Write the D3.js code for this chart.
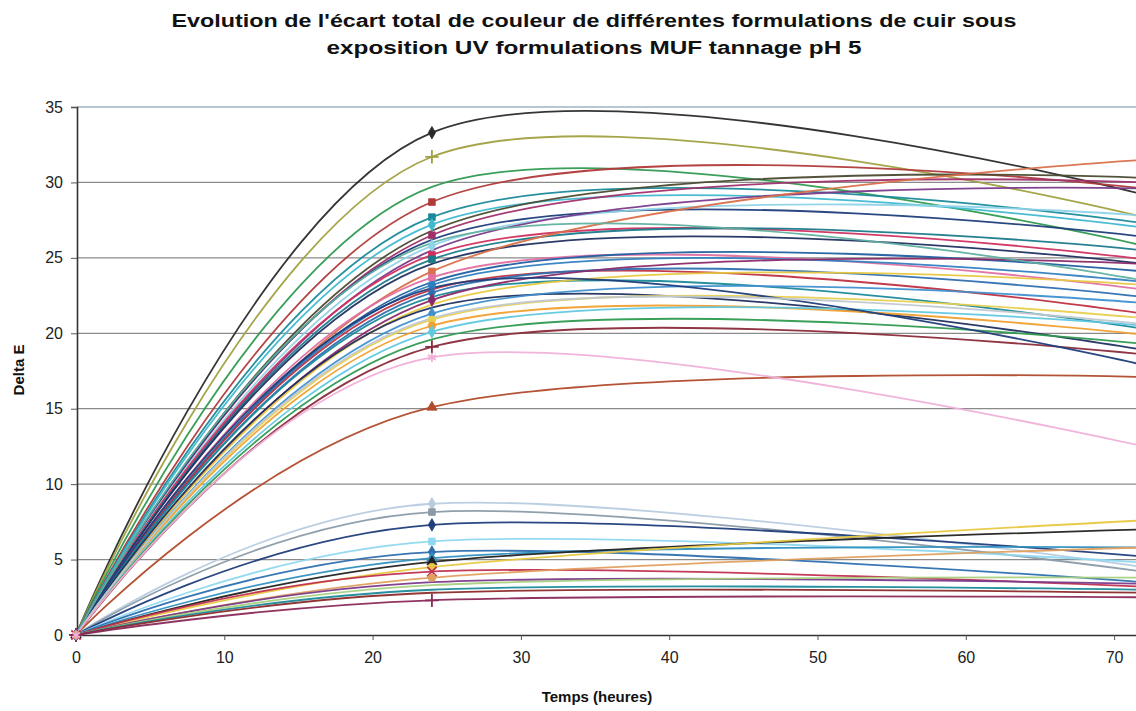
<!DOCTYPE html>
<html><head><meta charset="utf-8">
<script src="https://cdn.jsdelivr.net/npm/d3@7"></script>
<style>body{margin:0;background:#fff}svg{display:block}</style>
</head><body>
<svg id="c" width="1136" height="711"></svg>
<script>
// ---- data ----
const titleLines = ["Evolution de l'écart total de couleur de différentes formulations de cuir sous",
                    "exposition UV formulations MUF tannage pH 5"];
const xLabel = "Temps (heures)";
const yLabel = "Delta E";
const hours = [0, 24, 72];
const xTicks = [0, 10, 20, 30, 40, 50, 60, 70];
const yTicks = [0, 5, 10, 15, 20, 25, 30, 35];
// Delta E at 24 h and at 72 h for each formulation (value at 0 h is 0)
const at24 = [33.3, 31.7, 29.7, 28.7, 27.7, 27.2, 26.8, 26.5, 26.2, 25.8, 25.5, 25.2, 24.9, 24.6, 24.1,
              23.7, 23.4, 23.2, 22.9, 22.7, 22.4, 22.2, 21.9, 21.7, 21.3, 20.9, 20.5, 20.1, 19.6, 19.1,
              23.0, 21.0, 26.0, 15.1,
              8.7, 8.15, 7.3, 6.2, 5.5, 5.1, 4.85, 4.5, 4.2, 3.8, 3.5, 3.3, 3.0, 2.8, 2.3, 18.4];
const at72 = [29.2, 27.7, 25.8, 29.6, 27.3, 27.0, 30.3, 30.0, 26.4, 27.8, 29.6, 24.9, 25.5, 24.6, 31.5,
              22.9, 24.1, 23.4, 21.3, 22.4, 20.3, 24.6, 23.2, 18.9, 22.0, 21.0, 19.9, 20.5, 19.3, 18.6,
              17.9, 20.6, 23.5, 17.1,
              4.5, 4.2, 5.2, 4.8, 3.5, 5.8, 7.0, 7.6, 3.2, 5.8, 3.4, 3.8, 3.0, 2.8, 2.5, 12.5];
// ---- styles ----
const palette = ["#2a2a2a","#a0a040","#2e9a50","#b03a3a","#1a8a9a","#40b8d0","#4a4a30","#a0306a","#1f3d7a","#8fd3e8",
                 "#7a3a8a","#d03060","#1a7a8a","#203060","#d9704a","#e070a0","#2060a0","#3080c0","#c03040","#2e6fb0",
                 "#1a8a9a","#8a2a6a","#e8c840","#203060","#4090d0","#e8d050","#f0a030","#60c8e0","#2e9a50","#8a2a3a",
                 "#1f3d7a","#c0c8d0","#60b0a0","#b04a2a",
                 "#b8cce0","#8a9aa8","#1f3d7a","#90d8f0","#2e6fb0","#3090c0","#222222","#e8c840","#c03050","#e0a060",
                 "#7a3a8a","#a8d080","#1a8a9a","#8b2a2a","#8a2a5a","#f0b0d8"];
const markerKinds = ["diamond","plus","none","square","square","diamond","none","square","none","diamond",
                     "none","square","square","none","square","square","none","circle","none","diamond",
                     "none","diamond","none","none","diamond","circle","circle","diamond","none","plus",
                     "none","none","none","triangle",
                     "diamond","square","diamond","square","diamond","triangle","triangle","circle","x","circle",
                     "none","none","none","none","plus","asterisk"];

const svg = d3.select("#c");
const x = d3.scaleLinear().domain([0, 80]).range([76, 76 + 80 * 14.83]);
const y = d3.scaleLinear().domain([0, 35]).range([635, 107]);

// title
titleLines.forEach((t, i) => {
  svg.append("text").attr("x", 594).attr("y", 27 + i * 27)
    .attr("text-anchor", "middle").attr("font-family", "Liberation Sans, Arial, sans-serif")
    .attr("font-weight", "bold").attr("font-size", 18).attr("fill", "#111")
    .attr("textLength", i === 0 ? 845 : 535).attr("lengthAdjust", "spacingAndGlyphs").text(t);
});

// grid
svg.append("g").selectAll("line").data(yTicks.filter(d => d > 0)).join("line")
  .attr("x1", 77).attr("x2", 1136).attr("y1", d => y(d)).attr("y2", d => y(d))
  .attr("stroke", d => d === 35 ? "#9fb4c0" : "#8a8a8a").attr("stroke-width", 1.3);

// axes
const yAxis = svg.append("g").attr("transform", "translate(77,0)")
  .call(d3.axisLeft(y).tickValues(yTicks).tickSize(6).tickPadding(8));
const xAxis = svg.append("g").attr("transform", "translate(0,635)")
  .call(d3.axisBottom(x).tickValues(xTicks).tickSize(5).tickPadding(12));
[yAxis, xAxis].forEach(g => {
  g.select(".domain").attr("stroke", "#333").attr("stroke-width", 1.6);
  g.selectAll(".tick line").attr("stroke", "#555");
  g.selectAll("text").attr("font-family", "Liberation Sans, Arial, sans-serif").attr("font-size", 16).attr("fill", "#222");
});
xAxis.select(".domain").attr("d", "M76,0.5H1136");

// series
const series = at24.map((v, i) => ({
  pts: hours.map((h, k) => [h, k === 0 ? 0 : (k === 1 ? v : at72[i])]),
  color: palette[i], marker: markerKinds[i]
}));
const line = d3.line().x(d => x(d[0])).y(d => y(d[1])).curve(d3.curveCardinal.tension(0));
const gl = svg.append("g");
series.forEach(s => {
  gl.append("path").attr("d", line(s.pts)).attr("fill", "none")
    .attr("stroke", s.color).attr("stroke-width", 1.8).attr("opacity", 0.95);
});
const symMap = {diamond: d3.symbolDiamond, square: d3.symbolSquare, triangle: d3.symbolTriangle,
  circle: d3.symbolCircle, plus: d3.symbolPlus, x: d3.symbolX, asterisk: d3.symbolAsterisk};
const gm = svg.append("g");
series.forEach(s => {
  if (s.marker === "none") return;
  const stroked = ["plus", "x", "asterisk"].includes(s.marker);
  s.pts.forEach(p => {
    gm.append("path")
      .attr("d", d3.symbol(symMap[s.marker], stroked ? 60 : 45)())
      .attr("transform", `translate(${x(p[0])},${y(p[1])})`)
      .attr("fill", stroked ? "none" : s.color)
      .attr("stroke", s.color).attr("stroke-width", stroked ? 1.8 : 0.8);
  });
});

// axis titles
svg.append("text").attr("x", 597).attr("y", 702).attr("text-anchor", "middle")
  .attr("font-family", "Liberation Sans, Arial, sans-serif").attr("font-weight", "bold").attr("font-size", 15)
  .attr("fill", "#111").text(xLabel);
svg.append("text").attr("transform", "translate(24,370) rotate(-90)").attr("text-anchor", "middle")
  .attr("font-family", "Liberation Sans, Arial, sans-serif").attr("font-weight", "bold").attr("font-size", 15)
  .attr("fill", "#111").text(yLabel);
</script>
</body></html>
